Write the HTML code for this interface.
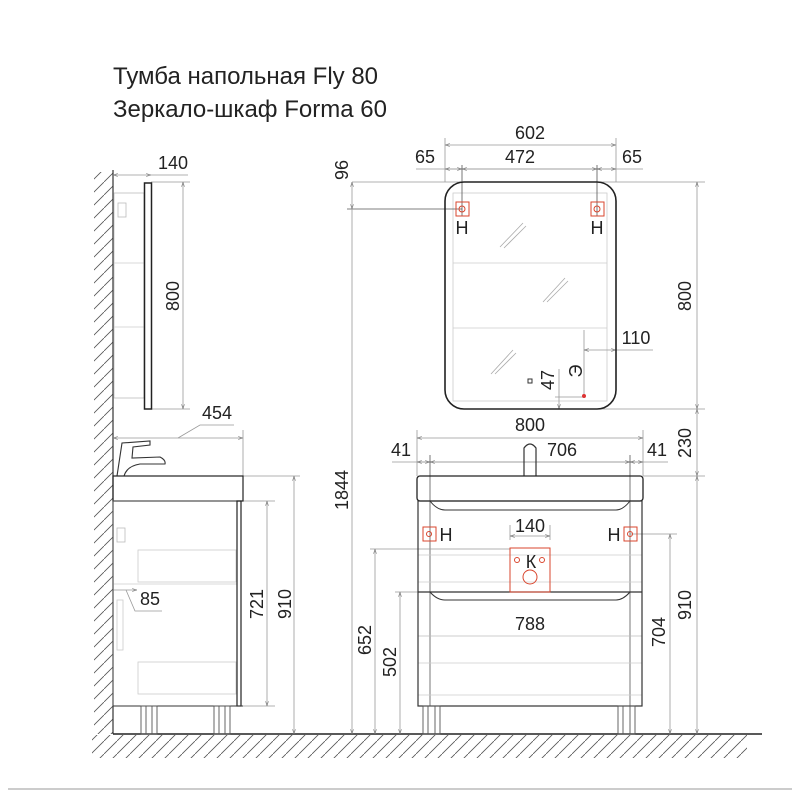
<!DOCTYPE html>
<html><head><meta charset="utf-8"><style>
html,body{margin:0;padding:0;background:#fff;width:800px;height:800px;overflow:hidden}
svg{display:block}
text{font-family:"Liberation Sans","DejaVu Sans",sans-serif;fill:#222}
</style></head><body>
<svg width="800" height="800" viewBox="0 0 800 800" xmlns="http://www.w3.org/2000/svg">
<defs>
<pattern id="h" width="13" height="13" patternUnits="userSpaceOnUse">
<line x1="0" y1="13" x2="13" y2="0" stroke="#555" stroke-width="0.8"/>
</pattern>
<marker id="a" viewBox="0 0 10 10" refX="10" refY="5" markerWidth="6" markerHeight="6" orient="auto-start-reverse"><path d="M0,2 L10,5 L0,8" fill="none" stroke="#777" stroke-width="1.2"/></marker>
</defs>

<text x="113" y="84" font-size="24">Тумба напольная Fly 80</text>
<text x="113" y="117" font-size="24">Зеркало-шкаф Forma 60</text>

<!-- wall hatch -->
<rect x="94" y="172" width="19" height="562" fill="url(#h)"/>
<line x1="113" y1="170" x2="113" y2="734" stroke="#333" stroke-width="1.2"/>
<!-- floor -->
<rect x="92" y="735" width="655" height="23" fill="url(#h)"/>
<line x1="113" y1="734" x2="762" y2="734" stroke="#222" stroke-width="1.5"/>
<line x1="8" y1="789" x2="792" y2="789" stroke="#bbb" stroke-width="1.5"/>

<g fill="none" stroke="#999" stroke-width="0.8">
<rect x="114" y="193" width="30" height="205" stroke="#bbb"/>
<line x1="114" y1="263" x2="144" y2="263" stroke="#ccc"/>
<line x1="114" y1="327" x2="144" y2="327" stroke="#ccc"/>
<rect x="118" y="203" width="8" height="14" stroke="#bbb"/>
<line x1="113" y1="175" x2="151" y2="175" marker-start="url(#a)" marker-end="url(#a)"/>
<line x1="151" y1="175" x2="188" y2="175"/>
<line x1="151" y1="182" x2="190" y2="182"/>
<line x1="151" y1="409" x2="190" y2="409"/>
<line x1="183" y1="182" x2="183" y2="409" marker-start="url(#a)" marker-end="url(#a)"/>
<line x1="113" y1="438" x2="243" y2="438" marker-start="url(#a)" marker-end="url(#a)"/>
<polyline points="178,438 200,425 234,425"/>
<line x1="243" y1="430" x2="243" y2="476"/>
<line x1="243" y1="476" x2="300" y2="476"/>
<line x1="241" y1="501" x2="275" y2="501"/>
<line x1="241" y1="706" x2="275" y2="706"/>
<line x1="267" y1="501" x2="267" y2="706" marker-start="url(#a)" marker-end="url(#a)"/>
<line x1="294" y1="476" x2="294" y2="734" marker-start="url(#a)" marker-end="url(#a)"/>
<line x1="113" y1="590" x2="137" y2="590" marker-end="url(#a)"/>
<polyline points="126,590 135,611 162,611"/>
<rect x="138" y="550" width="98" height="32" stroke="#ccc"/>
<rect x="138" y="662" width="98" height="32" stroke="#ccc"/>
<line x1="113" y1="584" x2="237" y2="584" stroke="#ccc"/>
<rect x="117" y="528" width="8" height="14" stroke="#bbb"/>
<rect x="117" y="600" width="6" height="50" stroke="#ccc"/>
</g>
<rect x="144.5" y="183" width="7" height="226" fill="none" stroke="#222" stroke-width="1.5"/>
<path d="M117 476 L122 443 L150 441 L150 445 L133 447 L132 458 L160 457 Q166 460 165 464 L140 464 Q127 466 124 476" fill="none" stroke="#333" stroke-width="1.1"/>
<rect x="113" y="476" width="130" height="25" fill="none" stroke="#222" stroke-width="1.2"/>
<rect x="113" y="501" width="124" height="205" fill="none" stroke="#555" stroke-width="1"/>
<rect x="237" y="501" width="4" height="205" fill="none" stroke="#222" stroke-width="1.2"/>
<line x1="113" y1="706" x2="243" y2="706" stroke="#333"/>
<g fill="none" stroke="#555" stroke-width="0.9">
<rect x="141" y="706" width="16" height="28"/><line x1="146" y1="706" x2="146" y2="734"/><line x1="152" y1="706" x2="152" y2="734"/>
<rect x="214" y="706" width="16" height="28"/><line x1="219" y1="706" x2="219" y2="734"/><line x1="225" y1="706" x2="225" y2="734"/>
</g>
<g font-size="18" text-anchor="middle">
<text x="173" y="169">140</text>
<text transform="translate(179,296) rotate(-90)">800</text>
<text x="217" y="419">454</text>
<text x="150" y="605">85</text>
<text transform="translate(263,604) rotate(-90)">721</text>
<text transform="translate(291,604) rotate(-90)">910</text>
</g>

<!-- FRONT VIEW -->
<g fill="none" stroke="#999" stroke-width="0.8">
<rect x="453" y="193" width="154" height="208" stroke="#ccc"/>
<line x1="453" y1="263" x2="607" y2="263" stroke="#ccc"/>
<line x1="453" y1="328" x2="607" y2="328" stroke="#ccc"/>
<line x1="500" y1="247" x2="523" y2="223" stroke="#aaa"/><line x1="504" y1="248" x2="526" y2="226" stroke="#aaa"/>
<line x1="543" y1="302" x2="565" y2="278" stroke="#aaa"/><line x1="547" y1="302" x2="568" y2="281" stroke="#aaa"/>
<line x1="491" y1="374" x2="513" y2="350" stroke="#aaa"/><line x1="495" y1="374" x2="516" y2="353" stroke="#aaa"/>
<line x1="445" y1="145" x2="616" y2="145" marker-start="url(#a)" marker-end="url(#a)"/>
<line x1="445" y1="138" x2="445" y2="182"/><line x1="616" y1="138" x2="616" y2="182"/>
<line x1="416" y1="169" x2="643" y2="169"/>
<line x1="445" y1="169" x2="462" y2="169" marker-start="url(#a)" marker-end="url(#a)"/>
<line x1="462" y1="169" x2="597" y2="169" marker-start="url(#a)" marker-end="url(#a)"/>
<line x1="597" y1="169" x2="616" y2="169" marker-start="url(#a)" marker-end="url(#a)"/>
<line x1="462" y1="165" x2="462" y2="216" stroke="#555"/><line x1="597" y1="165" x2="597" y2="216" stroke="#555"/>
<line x1="352" y1="182" x2="705" y2="182"/>
<line x1="347" y1="209" x2="462" y2="209" stroke="#555"/>
<line x1="352" y1="182" x2="352" y2="209" marker-start="url(#a)" marker-end="url(#a)"/>
<line x1="352" y1="209" x2="352" y2="734" marker-end="url(#a)"/>
<line x1="697" y1="182" x2="697" y2="409" marker-start="url(#a)" marker-end="url(#a)"/>
<line x1="600" y1="409" x2="705" y2="409"/>
<line x1="697" y1="409" x2="697" y2="476" marker-start="url(#a)" marker-end="url(#a)"/>
<line x1="643" y1="476" x2="705" y2="476"/>
<line x1="697" y1="476" x2="697" y2="734" marker-start="url(#a)" marker-end="url(#a)"/>
<line x1="584" y1="330" x2="584" y2="398"/>
<line x1="584" y1="350" x2="616" y2="350" marker-start="url(#a)" marker-end="url(#a)"/>
<line x1="616" y1="350" x2="653" y2="350"/>
<line x1="559" y1="369" x2="559" y2="409" marker-end="url(#a)"/>
<line x1="555" y1="397" x2="583" y2="397"/>
<line x1="417" y1="430" x2="417" y2="476"/><line x1="643" y1="430" x2="643" y2="476"/>
<line x1="417" y1="438" x2="643" y2="438" marker-start="url(#a)" marker-end="url(#a)"/>
<line x1="392" y1="462" x2="668" y2="462"/>
<line x1="417" y1="462" x2="430" y2="462" marker-start="url(#a)" marker-end="url(#a)"/>
<line x1="430" y1="462" x2="630" y2="462" marker-start="url(#a)" marker-end="url(#a)"/>
<line x1="630" y1="462" x2="643" y2="462" marker-start="url(#a)" marker-end="url(#a)"/>
<line x1="430" y1="455" x2="430" y2="706" stroke="#555"/>
<line x1="630" y1="455" x2="630" y2="706" stroke="#555"/>
<line x1="370" y1="549" x2="510" y2="549"/>
<line x1="375" y1="549" x2="375" y2="734" marker-start="url(#a)" marker-end="url(#a)"/>
<line x1="395" y1="592" x2="420" y2="592"/>
<line x1="400" y1="592" x2="400" y2="734" marker-start="url(#a)" marker-end="url(#a)"/>
<line x1="630" y1="534" x2="677" y2="534"/>
<line x1="670" y1="534" x2="670" y2="734" marker-start="url(#a)" marker-end="url(#a)"/>
<line x1="510" y1="525" x2="510" y2="540"/><line x1="550" y1="525" x2="550" y2="540"/>
<line x1="510" y1="536" x2="550" y2="536" marker-start="url(#a)" marker-end="url(#a)"/>
<line x1="418" y1="636" x2="642" y2="636" stroke="#bbb"/>
<line x1="418" y1="555" x2="642" y2="555" stroke="#ccc"/>
<line x1="418" y1="582" x2="642" y2="582" stroke="#ccc"/>
<line x1="418" y1="663" x2="642" y2="663" stroke="#ccc"/>
<line x1="418" y1="695" x2="642" y2="695" stroke="#ccc"/>
</g>
<rect x="445" y="182" width="171" height="227" rx="19" fill="none" stroke="#222" stroke-width="1.6"/>
<rect x="528" y="379" width="4" height="4" fill="none" stroke="#333"/>
<circle cx="584" cy="396" r="2" fill="#d33"/>
<path d="M524 476 L524 448 Q530 440 536 448 L536 476" fill="none" stroke="#333" stroke-width="1.2"/>
<rect x="417" y="476" width="226" height="25" rx="3" fill="none" stroke="#222" stroke-width="1.3"/>
<rect x="418" y="501" width="224" height="205" fill="none" stroke="#333" stroke-width="1.2"/>
<path d="M430 501 Q437 510 445 510 L616 510 Q623 510 630 501" fill="none" stroke="#333"/>
<line x1="418" y1="592" x2="642" y2="592" stroke="#333" stroke-width="1.2"/>
<path d="M430 592 Q437 600 445 600 L616 600 Q623 600 630 592" fill="none" stroke="#333"/>
<g fill="none" stroke="#555" stroke-width="0.9">
<rect x="423" y="706" width="17" height="28"/><line x1="428" y1="706" x2="428" y2="734"/><line x1="435" y1="706" x2="435" y2="734"/>
<rect x="618" y="706" width="17" height="28"/><line x1="623" y1="706" x2="623" y2="734"/><line x1="630" y1="706" x2="630" y2="734"/>
</g>
<g fill="none" stroke="#d9462e" stroke-width="1">
<rect x="456" y="202" width="13" height="14"/><circle cx="462" cy="209" r="3"/>
<rect x="591" y="202" width="13" height="14"/><circle cx="597" cy="209" r="3"/>
<rect x="423" y="527" width="13" height="14"/><circle cx="429" cy="534" r="2.5"/>
<rect x="624" y="527" width="13" height="14"/><circle cx="630" cy="534" r="2.5"/>
<rect x="510" y="548" width="40" height="44"/>
<circle cx="517" cy="560" r="2.5"/><circle cx="542" cy="560" r="2.5"/>
<circle cx="530" cy="577" r="7"/>
</g>
<g font-size="18" text-anchor="middle">
<text x="462" y="234">Н</text><text x="597" y="234">Н</text>
<text x="446" y="541">Н</text><text x="614" y="541">Н</text>
<text x="531" y="568">К</text>
<text x="530" y="139">602</text>
<text x="425" y="163">65</text><text x="520" y="163">472</text><text x="632" y="163">65</text>
<text transform="translate(348,170) rotate(-90)">96</text>
<text transform="translate(348,490) rotate(-90)">1844</text>
<text transform="translate(691,296) rotate(-90)">800</text>
<text transform="translate(691,443) rotate(-90)">230</text>
<text transform="translate(691,605) rotate(-90)">910</text>
<text transform="translate(665,632) rotate(-90)">704</text>
<text transform="translate(371,640) rotate(-90)">652</text>
<text transform="translate(396,662) rotate(-90)">502</text>
<text transform="translate(554,380) rotate(-90)">47</text>
<text transform="translate(582,371) rotate(-90)">Э</text>
<text x="636" y="344">110</text>
<text x="530" y="431">800</text>
<text x="401" y="456">41</text><text x="562" y="456">706</text><text x="657" y="456">41</text>
<text x="530" y="532">140</text>
<text x="530" y="630">788</text>
</g>
</svg>
</body></html>
